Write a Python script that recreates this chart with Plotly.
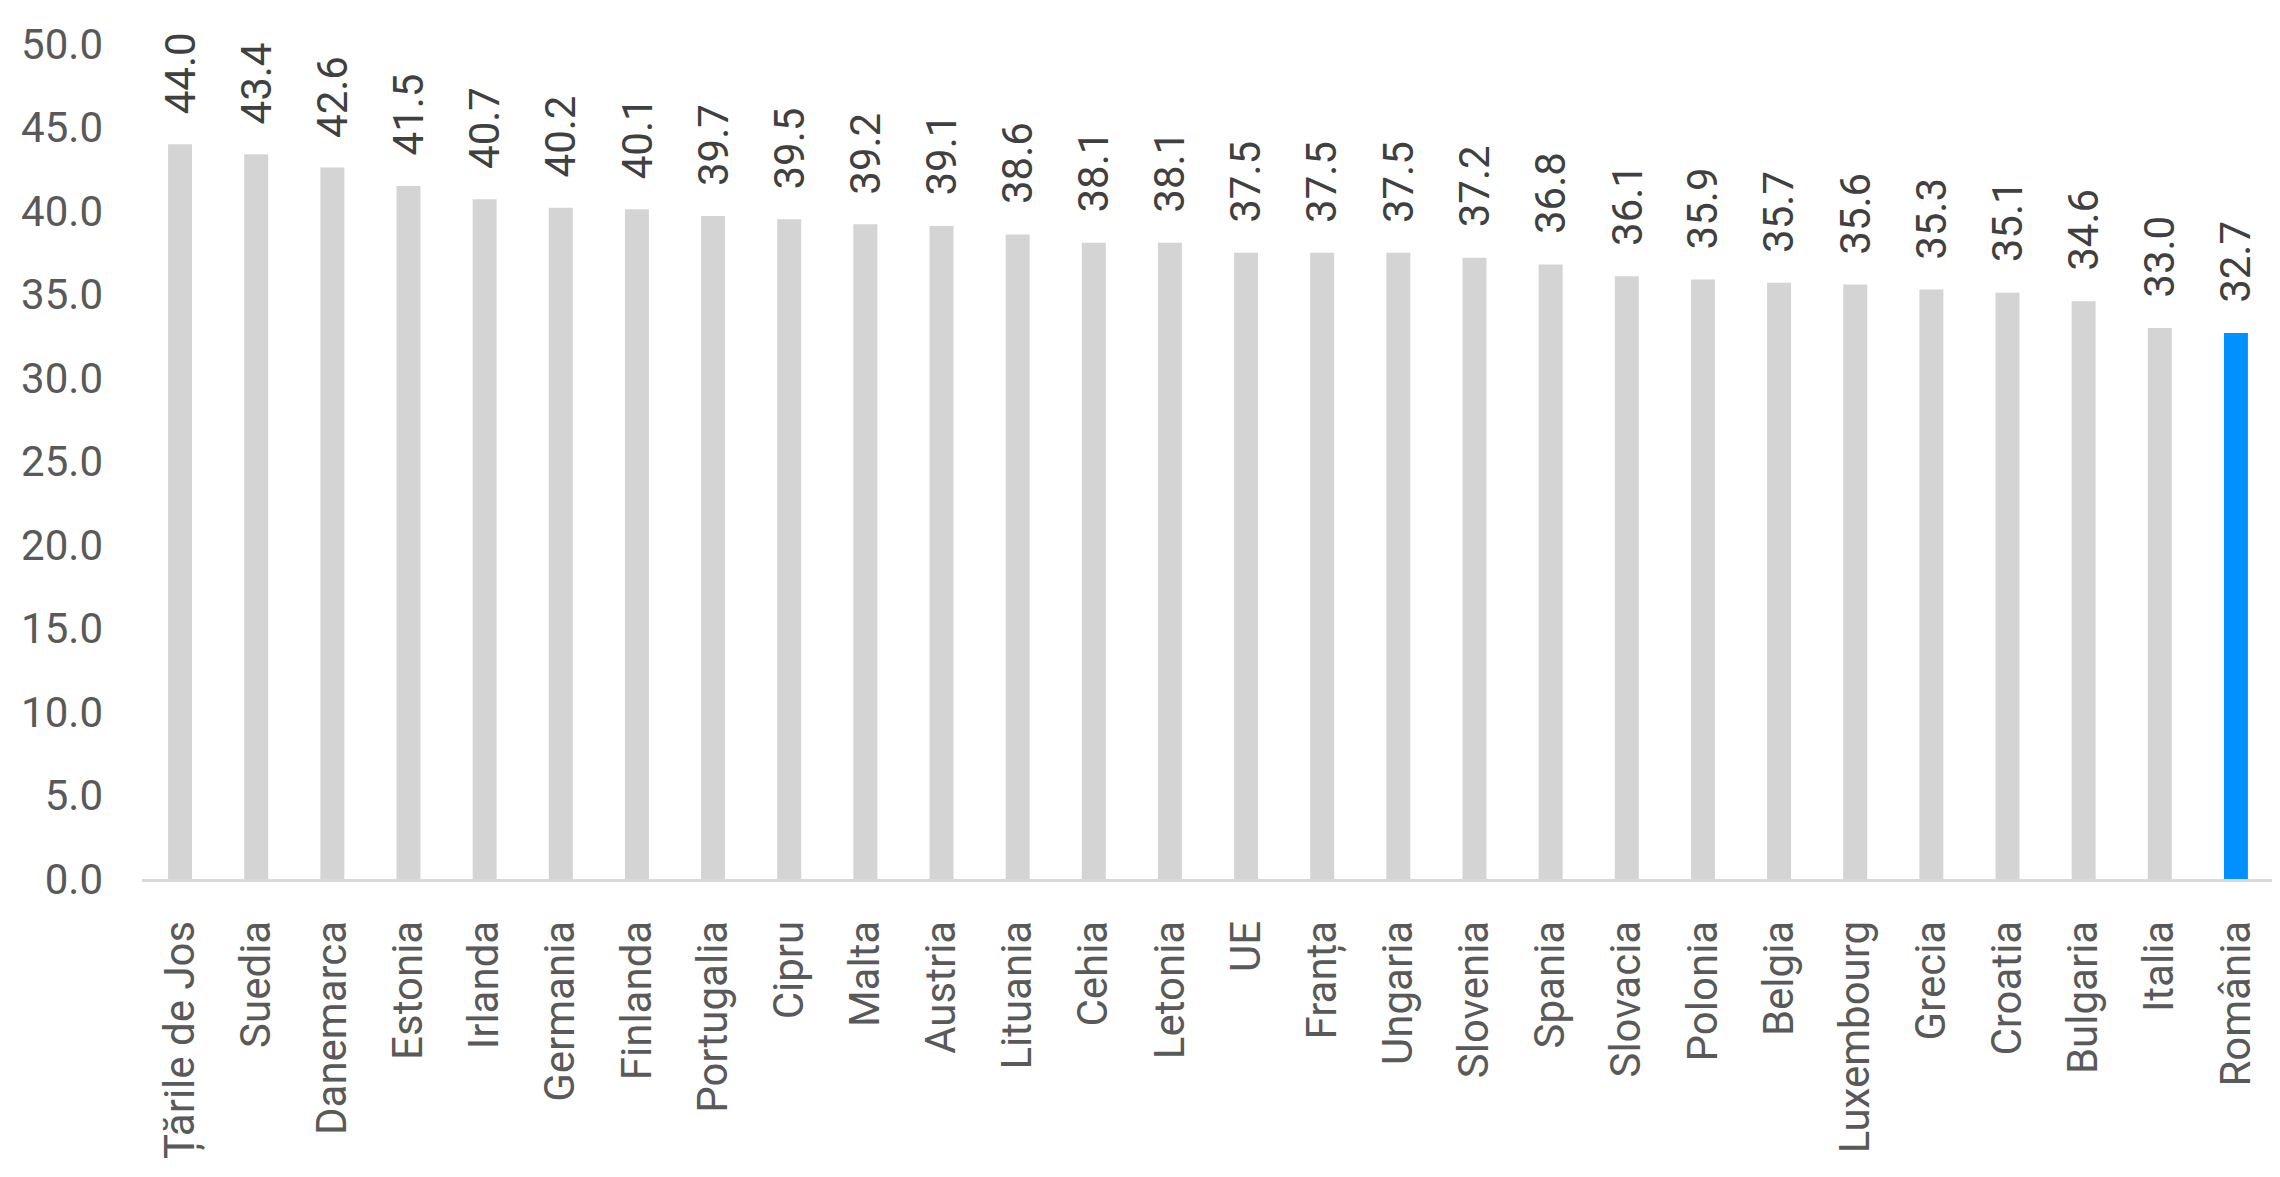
import plotly.graph_objects as go

categories = ["Țările de Jos", "Suedia", "Danemarca", "Estonia", "Irlanda", "Germania",
              "Finlanda", "Portugalia", "Cipru", "Malta", "Austria", "Lituania", "Cehia",
              "Letonia", "UE", "Franța", "Ungaria", "Slovenia", "Spania", "Slovacia",
              "Polonia", "Belgia", "Luxembourg", "Grecia", "Croatia", "Bulgaria",
              "Italia", "România"]
values = [44.0, 43.4, 42.6, 41.5, 40.7, 40.2, 40.1, 39.7, 39.5, 39.2, 39.1, 38.6, 38.1,
          38.1, 37.5, 37.5, 37.5, 37.2, 36.8, 36.1, 35.9, 35.7, 35.6, 35.3, 35.1, 34.6,
          33.0, 32.7]
highlight = "România"
y_ticks = [0, 5, 10, 15, 20, 25, 30, 35, 40, 45, 50]

FONT = "Roboto"
colors = ["#0091FF" if c == highlight else "#D4D4D4" for c in categories]

fig = go.Figure()
fig.add_trace(go.Bar(x=categories, y=values, marker=dict(color=colors, line=dict(width=0)),
                     hoverinfo="skip"))

for c, v in zip(categories, values):
    fig.add_annotation(x=c, y=v, text=f"{v:.1f}", showarrow=False, textangle=-90,
                       yanchor="bottom", xanchor="center", yshift=28,
                       font=dict(family=FONT, size=42, color="#404040"))

fig.update_layout(
    width=2280, height=1177,
    margin=dict(l=134, r=14, t=33, b=306),
    plot_bgcolor="white", paper_bgcolor="white",
    bargap=0.685, showlegend=False,
    font=dict(family=FONT, size=42, color="#595959"),
)
fig.update_xaxes(type="category", tickangle=-90, showgrid=False, showline=True,
                 linecolor="#D9D9D9", linewidth=3, ticks="", ticklabelstandoff=22,
                 tickfont=dict(family=FONT, size=42, color="#595959"))
fig.update_yaxes(range=[0, 50], tickvals=y_ticks, ticktext=[f"{t:.1f}" for t in y_ticks],
                 showgrid=False, zeroline=False, showline=False, ticks="",
                 ticklabelstandoff=38,
                 tickfont=dict(family=FONT, size=42, color="#595959"))

fig.write_html("out.html")
